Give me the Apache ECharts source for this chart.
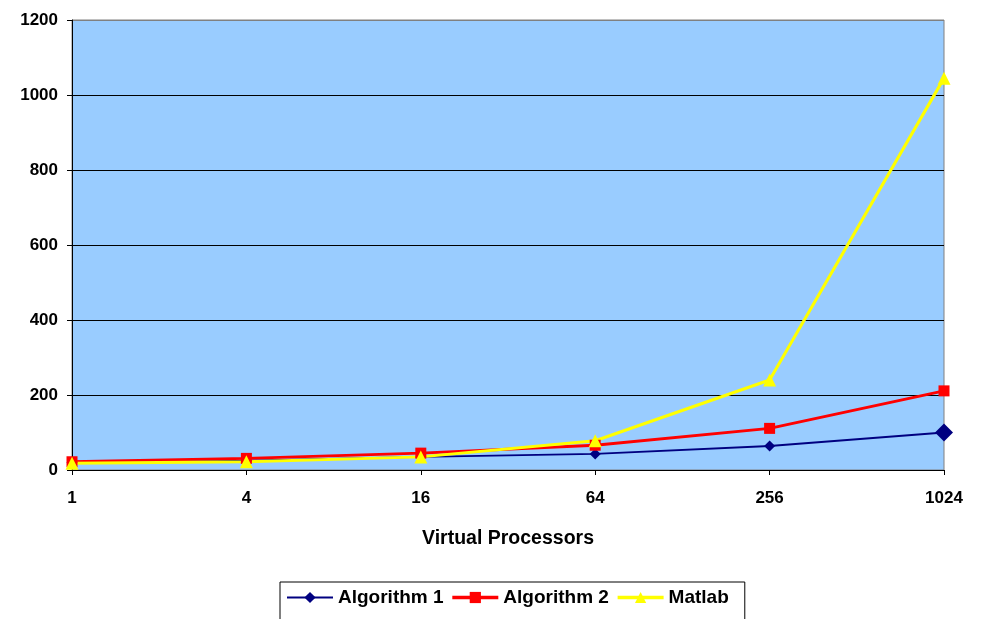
<!DOCTYPE html>
<html>
<head>
<meta charset="utf-8">
<script src="https://cdn.jsdelivr.net/npm/echarts@6/dist/echarts.min.js"></script>
<style>
  html, body { margin: 0; padding: 0; background: #fff; }
  #chart { width: 983px; height: 619px; }
</style>
</head>
<body>
<div id="chart"></div>
<script>
// Virtual processor counts on the horizontal axis
const processors = ['1', '4', '16', '64', '256', '1024'];

// Run times per method
const algorithm1 = [20, 25, 35, 43, 64, 100];
const algorithm2 = [22, 31, 45, 66, 111, 211];
const matlab = [18, 22, 35, 78, 240, 1045];

const yTicks = [0, 200, 400, 600, 800, 1000, 1200];

const FONT = '"Liberation Sans", Arial, sans-serif';

const chart = echarts.init(document.getElementById('chart'), null, { renderer: 'canvas' });

const gridLineColors = yTicks.map((v, i) => (i === yTicks.length - 1 ? '#808080' : '#000000'));

chart.setOption({
  animation: false,
  backgroundColor: '#ffffff',
  grid: {
    left: 72,
    right: 39,
    top: 20,
    bottom: 149,
    show: true,
    backgroundColor: '#99CCFF',
    borderColor: '#808080',
    borderWidth: 1
  },
  legend: {
    top: 582,
    left: 280,
    padding: [6, 16, 14, 6],
    itemGap: 7,
    itemWidth: 46,
    itemHeight: 14,
    borderColor: '#000000',
    borderWidth: 1,
    textStyle: { fontFamily: FONT, fontWeight: 'bold', fontSize: 19, color: '#000' },
    data: [
      { name: 'Algorithm 1', lineStyle: { width: 2 } },
      { name: 'Algorithm 2', lineStyle: { width: 3.5 } },
      { name: 'Matlab', lineStyle: { width: 3.5 } }
    ]
  },
  xAxis: {
    type: 'category',
    data: processors,
    boundaryGap: false,
    name: 'Virtual Processors',
    nameLocation: 'middle',
    nameGap: 59,
    nameTextStyle: { fontFamily: FONT, fontWeight: 'bold', fontSize: 19.5, color: '#000' },
    axisLine: { show: true, lineStyle: { color: '#000000', width: 1 } },
    axisTick: { show: true, inside: false, length: 5, lineStyle: { color: '#000000' } },
    axisLabel: { margin: 20, fontFamily: FONT, fontWeight: 'bold', fontSize: 17, color: '#000' },
    splitLine: { show: false }
  },
  yAxis: {
    type: 'value',
    min: yTicks[0],
    max: yTicks[yTicks.length - 1],
    interval: yTicks[1] - yTicks[0],
    axisLine: { show: true, lineStyle: { color: '#000000', width: 1 } },
    axisTick: { show: true, inside: false, length: 5, lineStyle: { color: '#000000' } },
    axisLabel: {
      margin: 14,
      fontFamily: FONT,
      fontWeight: 'bold',
      fontSize: 17,
      color: '#000',
      formatter: (v) => String(v)
    },
    splitLine: { show: true, lineStyle: { color: gridLineColors, width: 1 } }
  },
  series: [
    {
      name: 'Algorithm 1',
      type: 'line',
      data: algorithm1,
      color: '#000080',
      lineStyle: { width: 2, color: '#000080' },
      symbol: 'diamond',
      symbolSize: (val, params) => (params.dataIndex === processors.length - 1 ? 18 : 11),
      itemStyle: { color: '#000080' }
    },
    {
      name: 'Algorithm 2',
      type: 'line',
      data: algorithm2,
      color: '#FF0000',
      lineStyle: { width: 3, color: '#FF0000' },
      symbol: 'rect',
      symbolSize: 11,
      itemStyle: { color: '#FF0000' }
    },
    {
      name: 'Matlab',
      type: 'line',
      data: matlab,
      color: '#FFFF00',
      lineStyle: { width: 3, color: '#FFFF00' },
      symbol: 'triangle',
      symbolSize: 13,
      itemStyle: { color: '#FFFF00' }
    }
  ]
});
</script>
</body>
</html>
